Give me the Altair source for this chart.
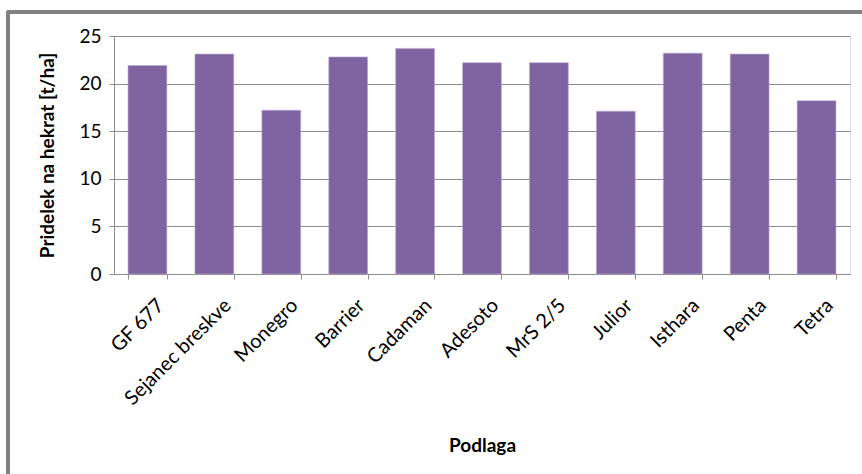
import altair as alt
import pandas as pd

categories = ["GF 677", "Sejanec breskve", "Monegro", "Barrier", "Cadaman", "Adesoto",
              "MrS 2/5", "Julior", "Isthara", "Penta", "Tetra"]
values = [21.9, 23.1, 17.2, 22.8, 23.7, 22.2, 22.2, 17.1, 23.2, 23.1, 18.2]

df = pd.DataFrame({"Podlaga": categories, "Pridelek": values})

FONT = "Lato"
GRID = "#8c8c8c"
FS = 19

bars = alt.Chart(df).mark_bar(color="#8064A2", stroke="#b9a9cf", strokeWidth=0.6).encode(
    x=alt.X("Podlaga:N", sort=categories,
            scale=alt.Scale(paddingInner=0.42, paddingOuter=0.21),
            axis=alt.Axis(title="Podlaga", labelAngle=-45, labelAlign="right",
                          labelBaseline="top", labelFontSize=20, labelFont=FONT,
                          labelColor="#000000", labelPadding=16, labelOffset=6,
                          titleFont=FONT, titleFontSize=FS, titleFontWeight="bold",
                          titleColor="#000000", titleY=171, titleBaseline="middle",
                          tickBand="extent", tickSize=5, tickColor=GRID,
                          domainColor=GRID, grid=False)),
    y=alt.Y("Pridelek:Q", scale=alt.Scale(domain=[0, 25], nice=False),
            axis=alt.Axis(title="Pridelek na hekrat [t/ha]", values=[0, 5, 10, 15, 20, 25],
                          labelFontSize=FS, labelFont=FONT, labelColor="#000000",
                          labelPadding=8, tickSize=5, tickColor=GRID, domainColor=GRID,
                          gridColor=GRID, titleFont=FONT, titleFontSize=FS,
                          titleFontWeight="bold", titleColor="#000000",
                          titleX=-67, titleBaseline="middle")),
)

border_top = alt.Chart(df).mark_rule(color="#808080", strokeWidth=2.5, clip=False).encode(
    x=alt.value(-107), x2=alt.value(760), y=alt.value(-24))
border_left = alt.Chart(df).mark_rule(color="#808080", strokeWidth=2.5, clip=False).encode(
    x=alt.value(-106), y=alt.value(-25), y2=alt.value(450))

chart = alt.layer(bars, border_top, border_left).properties(
    width=736, height=238,
    autosize=alt.AutoSizeParams(type="none"),
    padding={"left": 114, "top": 36, "right": 12, "bottom": 200},
).configure_view(stroke=None).configure(background="white")

chart.save("out.html", embed_options={"renderer": "svg", "actions": False})
